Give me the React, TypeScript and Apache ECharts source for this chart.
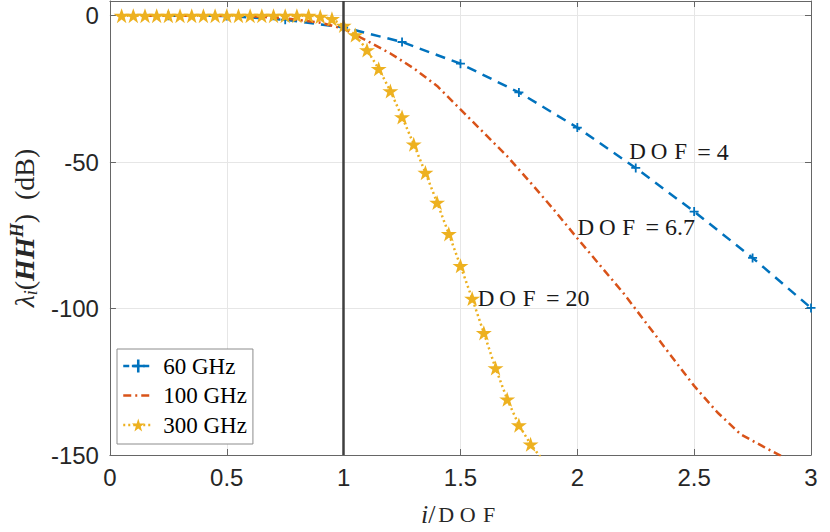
import React, { useEffect, useRef } from "react";
import * as echarts from "echarts";

// ---- data ----
const seriesNames = ["60 GHz", "100 GHz", "300 GHz"];
const seriesColors = ["#0072BD", "#D95319", "#EDB120"];

const xBlue = [0.25, 0.5, 0.75, 1.0, 1.25, 1.5, 1.75, 2.0, 2.25, 2.5, 2.75, 3.0];
const yBlue = [0, -0.1, -1.4, -4, -9, -16.4, -26.2, -38.2, -52, -66.9, -82.7, -99.8];

const xRed = [0.15, 0.3, 0.45, 0.6, 0.75, 0.9, 1.0, 1.1, 1.2, 1.3, 1.4, 1.5, 1.6, 1.7, 1.8, 1.9, 2.0, 2.1, 2.2, 2.3, 2.4, 2.5, 2.6, 2.7, 2.8, 2.9];
const yRed = [0, 0, 0, -0.2, -0.9, -2.4, -4.5, -8.6, -12.9, -18, -24, -32, -40, -48, -57, -66.3, -76, -85.5, -95, -105.5, -116, -126.4, -135.5, -143, -147.3, -151.5];

const xYellow = [0.05, 0.1, 0.15, 0.2, 0.25, 0.3, 0.35, 0.4, 0.45, 0.5, 0.55, 0.6, 0.65, 0.7, 0.75, 0.8, 0.85, 0.9, 0.95, 1.0, 1.05, 1.1, 1.15, 1.2, 1.25, 1.3, 1.35, 1.4, 1.45, 1.5, 1.55, 1.6, 1.65, 1.7, 1.75, 1.8, 1.85];
const yYellow = [0, 0, 0, 0, 0, 0, 0, 0, 0, 0, 0, 0, 0, 0, 0, 0, 0, -0.3, -1.1, -3.4, -6.6, -11.7, -18.1, -25.7, -34.6, -43.9, -53.6, -63.8, -74.5, -85.4, -96.6, -108.3, -120.3, -131, -139.8, -146.3, -151.5];

const dofValues = ["4", "6.7", "20"];
const dofAnchors = [
  [2.212, -46.5],
  [1.99, -72.3],
  [1.564, -96.4],
];
const dofLineX = 1;

const xMin = 0, xMax = 3, xInterval = 0.5;
const yMin = -150, yMax = 5, yInterval = 50;

// ---- symbols ----
const plusPath = "path://M4,0H6V4H10V6H6V10H4V6H0V4H4Z";
const starPath =
  "path://M50,0 L61.8,35.1 L98.9,35.1 L68.8,56.8 L79.4,91.9 L50,70.2 L20.6,91.9 L31.2,56.8 L1.1,35.1 L38.2,35.1 Z";

const SERIF = "Liberation Serif";
const SANS = "Liberation Sans";
const TXT = "#262626";
const AX = "#666666";

const blueDash = [10, 7];
const blueLegendDash = [6, 4];
const redDash = [8, 4, 2, 4];
const yellowDash = [2, 3];

const dofRich = {
  c: { fontFamily: SERIF, fontSize: 23, width: 21.5, align: "center", color: "#1a1a1a" },
  r: { fontFamily: SERIF, fontSize: 24, color: "#1a1a1a" },
};

function dofMark(i: number) {
  return {
    symbol: "circle",
    symbolSize: 0,
    silent: true,
    itemStyle: { color: "transparent" },
    label: {
      show: true,
      position: "right",
      distance: 0,
      formatter: "{c|D}{c|O}{c|F}{r| = " + dofValues[i] + "}",
      rich: dofRich,
    },
    data: [{ coord: dofAnchors[i] }],
  };
}

function pairs(xs: number[], ys: number[]) {
  return xs.map((x, i) => [x, ys[i]]);
}

export default function App() {
  const ref = useRef<HTMLDivElement>(null);
  useEffect(() => {
    document.body.style.margin = "0";
    const chart = echarts.init(ref.current!, undefined, { renderer: "svg" });
    const axisLine = { show: true, onZero: false, lineStyle: { color: AX, width: 1 } };
    const axisTick = { show: true, inside: true, length: 6, lineStyle: { color: AX, width: 1 } };
    const split = { show: true, lineStyle: { color: "#e6e6e6", width: 1 } };
    chart.setOption({
      animation: false,
      backgroundColor: "#ffffff",
      grid: { left: 107, right: 19, top: 1, bottom: 77, containLabel: false },
      legend: {
        show: true,
        orient: "vertical",
        left: 117,
        top: 349,
        data: [
          { name: seriesNames[0], lineStyle: { type: blueLegendDash, width: 2.5 } },
          { name: seriesNames[1], lineStyle: { type: redDash, width: 2.5 }, itemStyle: { opacity: 0 } },
          { name: seriesNames[2], lineStyle: { type: yellowDash, width: 2.5 } },
        ],
        itemWidth: 30,
        itemHeight: 16,
        itemGap: 5.5,
        padding: [5, 6, 7, 5],
        borderColor: "#8c8c8c",
        borderWidth: 1,
        backgroundColor: "#ffffff",
        textStyle: { fontFamily: SERIF, fontSize: 23, color: "#000", lineHeight: 24, padding: [0, 0, 0, 5] },
      },
      xAxis: [
        {
          type: "value",
          min: xMin,
          max: xMax,
          interval: xInterval,
          position: "bottom",
          axisLine,
          axisTick,
          splitLine: split,
          axisLabel: { fontFamily: SANS, fontSize: 24, color: TXT, margin: 10 },
          name: "{it|i}{rm|/}{c|D}{c|O}{c|F}",
          nameLocation: "middle",
          nameGap: 46,
          nameTextStyle: {
            rich: {
              it: { fontFamily: SERIF, fontStyle: "italic", fontSize: 26, color: TXT, lineHeight: 26 },
              rm: { fontFamily: SERIF, fontSize: 26, color: TXT, lineHeight: 26 },
              c: { fontFamily: SERIF, fontSize: 22, width: 21.5, align: "center", color: TXT, lineHeight: 26 },
            },
          },
        },
        {
          type: "value",
          min: xMin,
          max: xMax,
          interval: xInterval,
          position: "top",
          axisLine,
          axisTick,
          splitLine: { show: false },
          axisLabel: { show: false },
        },
      ],
      yAxis: [
        {
          type: "value",
          min: yMin,
          max: yMax,
          interval: yInterval,
          position: "left",
          axisLine,
          axisTick,
          splitLine: split,
          axisLabel: {
            fontFamily: SANS,
            fontSize: 24,
            color: TXT,
            margin: 11,
            showMaxLabel: false,
            formatter: (v: number) => (v % yInterval === 0 ? String(v) : ""),
          },
          name: "{l|λ}{s|i}{p|(}{b|HH}{u|H}{p|)  (dB)}",
          nameLocation: "middle",
          nameGap: 67,
          nameTextStyle: {
            rich: {
              l: { fontFamily: SERIF, fontStyle: "italic", fontSize: 28, color: TXT, lineHeight: 32 },
              s: { fontFamily: SERIF, fontStyle: "italic", fontSize: 18, color: TXT, lineHeight: 17, verticalAlign: "bottom" },
              p: { fontFamily: SERIF, fontSize: 28, color: TXT, lineHeight: 32 },
              b: { fontFamily: SERIF, fontStyle: "italic", fontWeight: "bold", fontSize: 28, color: TXT, lineHeight: 32 },
              u: { fontFamily: SERIF, fontStyle: "italic", fontWeight: "bold", fontSize: 18, color: TXT, lineHeight: 17, verticalAlign: "top" },
            },
          },
        },
        {
          type: "value",
          min: yMin,
          max: yMax,
          interval: yInterval,
          position: "right",
          axisLine,
          axisTick,
          splitLine: { show: false },
          axisLabel: { show: false },
        },
      ],
      series: [
        {
          name: seriesNames[0],
          type: "line",
          xAxisIndex: 0,
          yAxisIndex: 0,
          data: pairs(xBlue, yBlue),
          color: seriesColors[0],
          showSymbol: true,
          symbol: plusPath,
          symbolSize: 9,
          symbolKeepAspect: true,
          itemStyle: { color: seriesColors[0] },
          lineStyle: { color: seriesColors[0], width: 2.5, type: blueDash },
          z: 2,
          markLine: {
            silent: true,
            symbol: "none",
            label: { show: false },
            lineStyle: { color: "#3f3f3f", width: 2.5, type: "solid" },
            data: [{ xAxis: dofLineX }],
          },
          markPoint: dofMark(0),
        },
        {
          name: seriesNames[1],
          type: "line",
          data: pairs(xRed, yRed),
          color: seriesColors[1],
          showSymbol: false,
          symbol: "circle",
          itemStyle: { color: seriesColors[1] },
          lineStyle: { color: seriesColors[1], width: 2.5, type: redDash },
          z: 3,
          markPoint: dofMark(1),
        },
        {
          name: seriesNames[2],
          type: "line",
          data: pairs(xYellow, yYellow),
          color: seriesColors[2],
          showSymbol: true,
          symbol: starPath,
          symbolSize: 16,
          symbolKeepAspect: true,
          itemStyle: { color: seriesColors[2] },
          lineStyle: { color: seriesColors[2], width: 2.5, type: yellowDash },
          z: 4,
          markPoint: dofMark(2),
        },
      ],
    });
    return () => chart.dispose();
  }, []);
  return (
    <div
      ref={ref}
      style={{ position: "absolute", left: 0, top: 0, width: 830, height: 532, background: "#fff" }}
    />
  );
}
